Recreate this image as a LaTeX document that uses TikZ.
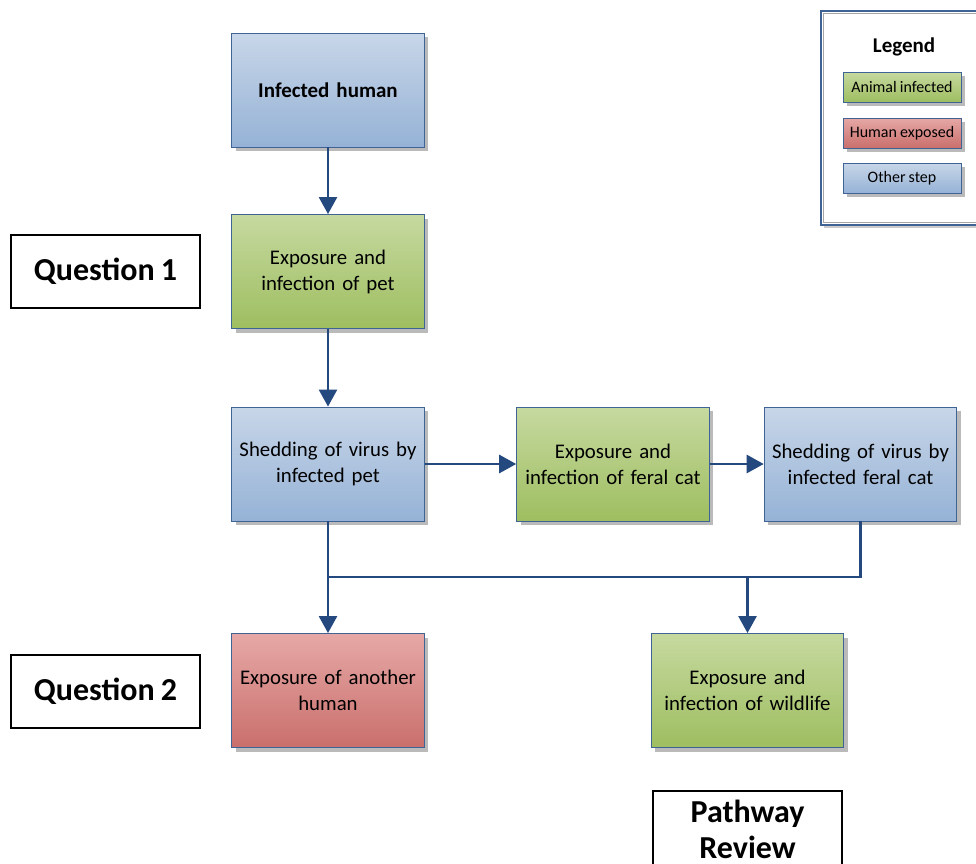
\documentclass[tikz,border=0pt]{standalone}
\usepackage{fontspec}
\setmainfont{Carlito}[WordSpace=0.85]
\usetikzlibrary{shadows,arrows.meta}
\definecolor{arrowblue}{HTML}{24497F}
\definecolor{bordblue}{HTML}{3F6394}
\definecolor{bluetop}{HTML}{C8D6E8}
\definecolor{bluebot}{HTML}{95B2D6}
\definecolor{greentop}{HTML}{C6D9A0}
\definecolor{greenbot}{HTML}{9EBE60}
\definecolor{redtop}{HTML}{E6A8A6}
\definecolor{redbot}{HTML}{C96F6C}
\tikzset{
  shadowed/.style={drop shadow={shadow xshift=4pt, shadow yshift=-4pt, fill=black!45, opacity=0.6}},
  flowbox/.style={shadowed, draw=bordblue, line width=0.9pt, minimum width=190pt, minimum height=114pt,
    align=center, text width=186pt, font={\fontsize{20.8}{26}\selectfont}},
  bluebox/.style={flowbox, top color=bluetop, bottom color=bluebot},
  greenbox/.style={flowbox, top color=greentop, bottom color=greenbot},
  redbox/.style={flowbox, top color=redtop, bottom color=redbot},
  qbox/.style={draw=black, line width=2pt, fill=white, minimum width=189pt, minimum height=73pt,
    align=center, font={\bfseries\fontsize{32}{37}\selectfont}},
  legitem/.style={shadowed, draw=bordblue, line width=0.8pt, minimum width=118pt, minimum height=30pt,
    inner sep=0pt, font={\fontsize{16}{18}\selectfont}},
  conn/.style={draw=arrowblue, line width=2.6pt},
  arr/.style={conn, -{Triangle[length=17pt,width=18pt]}},
}
\begin{document}
\begin{tikzpicture}[x=1pt,y=-1pt]
\useasboundingbox (0,0) rectangle (976,863);
\fill[white] (0,0) rectangle (976,863);

% legend
\node[draw=bordblue, line width=2.5pt, fill=white, minimum width=170pt, minimum height=214pt,
  drop shadow={shadow xshift=3pt, shadow yshift=-3pt, fill=black!40}] (leg) at (906,118) {};
\draw[black!35, line width=0.8pt] ([xshift=4pt,yshift=-4pt]leg.north west) rectangle ([xshift=-4pt,yshift=4pt]leg.south east);
\node[font={\bfseries\fontsize{21}{24}\selectfont}] (legt) at (904,47) {Legend};
\node[legitem, top color=greentop, bottom color=greenbot] (l1) at (902,87) {Animal infected};
\node[legitem, top color=redtop, bottom color=redbot] (l2) at (902,133) {Human exposed};
\node[legitem, top color=bluetop, bottom color=bluebot] (l3) at (902,178) {Other step};

% main boxes
\node[bluebox, font={\bfseries\fontsize{21}{26}\selectfont}] (ih) at (328,90) {Infected human};
\node[greenbox] (ep) at (328,271.5) {Exposure and\\infection of pet};
\node[bluebox] (sp) at (328,464) {Shedding of virus by\\infected pet};
\node[greenbox] (fc) at (613,464) {Exposure and\\infection of feral cat};
\node[bluebox] (sf) at (860.5,464) {Shedding of virus by\\infected feral cat};
\node[redbox] (ah) at (328,690.5) {Exposure of another\\human};
\node[greenbox] (wl) at (747.5,690.5) {Exposure and\\infection of wildlife};

% question boxes
\node[qbox] (q1) at (105.5,271.5) {Question 1};
\node[qbox] (q2) at (105.5,691.5) {Question 2};
\node[qbox, minimum height=76pt, font={\bfseries\fontsize{32}{36}\selectfont}] (pr) at (747.5,829) {Pathway\\Review};

% connectors
\coordinate (jl) at (328,577);
\coordinate (jr) at (860.5,577);
\coordinate (jw) at (747.5,577);
\draw[arr] (ih.south) -- (ep.north);
\draw[arr] (ep.south) -- (sp.north);
\draw[arr] (sp.east) -- (fc.west);
\draw[arr] (fc.east) -- (sf.west);
\draw[arr] (sp.south) -- (ah.north);
\draw[conn] (sf.south) -- (jr) -- (jl);
\draw[arr] (jw) -- (wl.north);
\end{tikzpicture}
\end{document}
